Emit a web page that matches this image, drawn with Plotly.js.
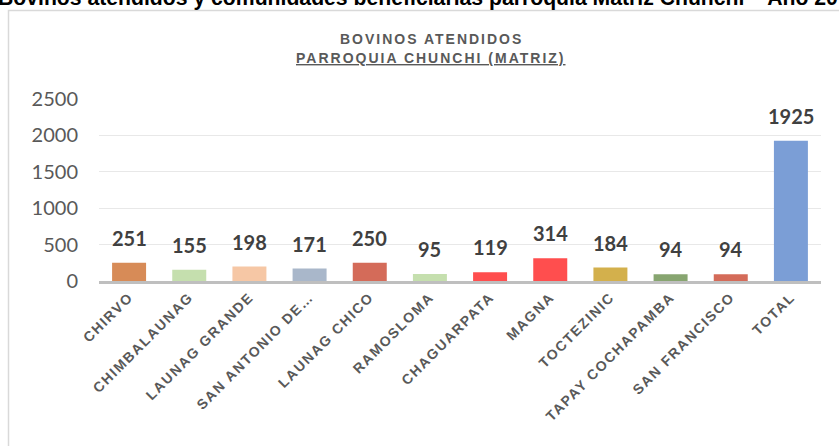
<!DOCTYPE html>
<html>
<head>
<meta charset="utf-8">
<script src="https://cdn.plot.ly/plotly-3.0.1.min.js"></script>
<style>
html,body{margin:0;padding:0;background:#fff;}
#chart{width:839px;height:446px;}
.xtick text{letter-spacing:1.6px;}
</style>
</head>
<body>
<div id="chart"></div>
<script>
const categories = ["CHIRVO","CHIMBALAUNAG","LAUNAG GRANDE","SAN ANTONIO DE…","LAUNAG CHICO","RAMOSLOMA","CHAGUARPATA","MAGNA","TOCTEZINIC","TAPAY COCHAPAMBA","SAN FRANCISCO","TOTAL"];
const values = [251,155,198,171,250,95,119,314,184,94,94,1925];
const barColors = ["#D78B57","#C5DFAE","#F6C7A5","#A9B7CA","#D46B59","#C5DFAE","#FF4E4E","#FF4E4E","#D3B04C","#87A570","#D46B59","#7B9ED6"];
const yTicks = [0,500,1000,1500,2000,2500];

const mainTitle = "Bovinos atendidos y comunidades beneficiarias parroquia Matriz Chunchi – Año 20";
const subTitle1 = "BOVINOS ATENDIDOS";
const subTitle2 = "PARROQUIA CHUNCHI (MATRIZ)";

// pixel helpers for paper coords (plot area: x 99..821, y 99..281)
const L = 99, R = 821, T = 99, B = 281;
const px = x => (x - L) / (R - L);
const py = y => (B - y) / (B - T);

const trace = {
  type: "bar",
  x: categories,
  y: values,
  marker: {color: barColors},
  width: 0.565,
  hoverinfo: "x+y"
};

const labelAnn = categories.map((c, i) => ({
  x: c, y: values[i], xref: "x", yref: "y",
  text: "<b>" + values[i] + "</b>",
  showarrow: false, yanchor: "middle", yshift: 25,
  font: {family: "Lato, 'Open Sans', sans-serif", size: 20, color: "#404040"}
}));

const layout = {
  width: 839, height: 446,
  margin: {l: L, r: 839 - R, t: T, b: 446 - B},
  paper_bgcolor: "#fff", plot_bgcolor: "#fff",
  showlegend: false,
  xaxis: {
    type: "category",
    tickangle: -45,
    tickfont: {family: "'Liberation Sans', Arial, sans-serif", size: 14, color: "#595959", weight: "bold"},
    showline: true, linecolor: "#BFBFBF", linewidth: 2.5,
    ticks: "", showgrid: false, fixedrange: true
  },
  yaxis: {
    range: [0, 2500],
    tickvals: yTicks,
    ticktext: yTicks.map(String),
    tickfont: {family: "Lato, 'Open Sans', sans-serif", size: 20, color: "#595959"},
    showgrid: true, gridcolor: "#E8E8E8", gridwidth: 1.3,
    zeroline: false, showline: false, ticks: "",
    ticklabelstandoff: 20, fixedrange: true
  },
  shapes: [{
    type: "rect", xref: "paper", yref: "paper",
    x0: px(8.5), x1: px(900), y0: py(520), y1: py(10.5),
    line: {color: "#D9D9D9", width: 1.5}, fillcolor: "rgba(0,0,0,0)", layer: "below"
  }],
  annotations: [
    {
      xref: "paper", yref: "paper", x: px(-4), y: py(12), xanchor: "left", yanchor: "bottom",
      text: "<b>" + mainTitle + "</b>", showarrow: false,
      font: {family: "'Liberation Sans', Arial, sans-serif", size: 21.2, color: "#000"}
    },
    {
      xref: "paper", yref: "paper", x: px(431), y: py(38.5), xanchor: "center", yanchor: "middle",
      text: "<b><span style=\"letter-spacing:2px\">" + subTitle1 + "</span></b>", showarrow: false,
      font: {family: "'Liberation Sans', Arial, sans-serif", size: 14, color: "#595959"}
    },
    {
      xref: "paper", yref: "paper", x: px(431), y: py(58.5), xanchor: "center", yanchor: "middle",
      text: "<b><u><span style=\"letter-spacing:2px\">" + subTitle2 + "</span></u></b>", showarrow: false,
      font: {family: "'Liberation Sans', Arial, sans-serif", size: 14, color: "#595959"}
    }
  ].concat(labelAnn)
};

Plotly.newPlot("chart", [trace], layout, {displayModeBar: false, staticPlot: true});
</script>
</body>
</html>
